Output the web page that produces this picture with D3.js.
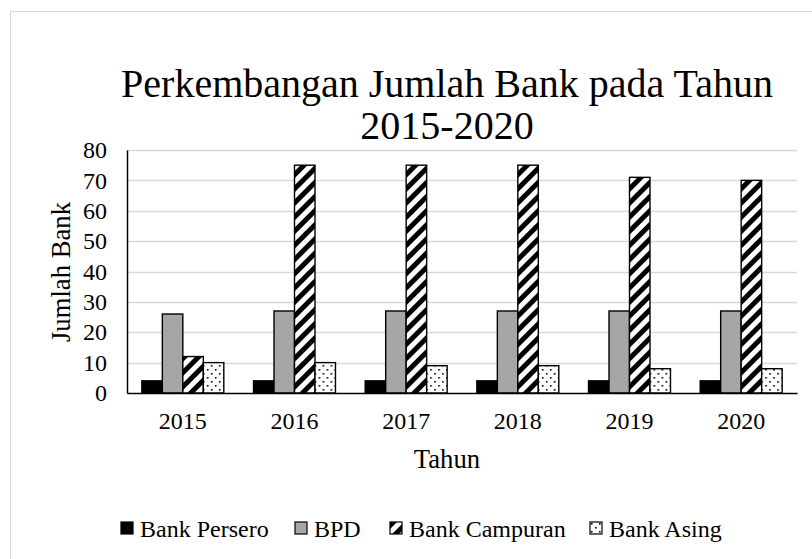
<!DOCTYPE html>
<html>
<head>
<meta charset="utf-8">
<script src="https://cdn.jsdelivr.net/npm/d3@7"></script>
<style>
  body { margin: 0; background: #fff; }
  text { font-family: "Liberation Serif", "Times New Roman", serif; fill: #000; }
</style>
</head>
<body>
<div id="chart"></div>
<script>
const years = ['2015', '2016', '2017', '2018', '2019', '2020'];
const seriesNames = ['Bank Persero', 'BPD', 'Bank Campuran', 'Bank Asing'];
const bankPersero = [4, 4, 4, 4, 4, 4];
const bpd = [26, 27, 27, 27, 27, 27];
const bankCampuran = [12, 75, 75, 75, 71, 70];
const bankAsing = [10, 10, 9, 9, 8, 8];
const yTicks = [0, 10, 20, 30, 40, 50, 60, 70, 80];

const seriesValues = [bankPersero, bpd, bankCampuran, bankAsing];
const fills = ['#000', '#a6a6a6', 'url(#stripes)', 'url(#dots)'];

const width = 812;
const height = 559;
const margin = { left: 127, right: 15, top: 150, bottom: 166 };

const svg = d3.select('#chart').append('svg')
  .attr('width', width)
  .attr('height', height);

// fill patterns for the two hatched series
const defs = svg.append('defs');
const stripes = defs.append('pattern')
  .attr('id', 'stripes')
  .attr('patternUnits', 'userSpaceOnUse')
  .attr('width', 10).attr('height', 10)
  .attr('patternTransform', 'rotate(45)');
stripes.append('rect').attr('width', 10).attr('height', 10).attr('fill', '#fff');
stripes.append('rect').attr('width', 5).attr('height', 10).attr('fill', '#000');

const dots = defs.append('pattern')
  .attr('id', 'dots')
  .attr('patternUnits', 'userSpaceOnUse')
  .attr('width', 8).attr('height', 8);
dots.append('rect').attr('width', 8).attr('height', 8).attr('fill', '#fff');
dots.append('rect').attr('x', 1).attr('y', 1).attr('width', 1.6).attr('height', 1.6).attr('fill', '#000');
dots.append('rect').attr('x', 5).attr('y', 5).attr('width', 1.6).attr('height', 1.6).attr('fill', '#000');

// chart frame
svg.append('rect')
  .attr('x', 10.5).attr('y', 11.5)
  .attr('width', 812).attr('height', 560)
  .attr('fill', 'none')
  .attr('stroke', '#d9d9d9');

const x0 = d3.scaleBand()
  .domain(years)
  .range([margin.left, width - margin.right])
  .paddingInner(0.266)
  .paddingOuter(0.133);

const x1 = d3.scaleBand()
  .domain(seriesNames)
  .range([0, x0.bandwidth()]);

const y = d3.scaleLinear()
  .domain([0, 80])
  .range([height - margin.bottom, margin.top]);

// gridlines
svg.append('g')
  .selectAll('line')
  .data(yTicks.slice(1))
  .join('line')
  .attr('x1', margin.left)
  .attr('x2', width - margin.right)
  .attr('y1', (d) => Math.round(y(d)) + 0.5)
  .attr('y2', (d) => Math.round(y(d)) + 0.5)
  .attr('stroke', '#d9d9d9')
  .attr('stroke-width', 1.3);

// bars
const groups = svg.append('g')
  .selectAll('g')
  .data(years)
  .join('g')
  .attr('transform', (d) => `translate(${x0(d)},0)`);

groups.selectAll('rect')
  .data((d, i) => seriesNames.map((name, s) => ({ name, s, value: seriesValues[s][i] })))
  .join('rect')
  .attr('x', (d) => x1(d.name))
  .attr('y', (d) => y(d.value))
  .attr('width', x1.bandwidth())
  .attr('height', (d) => y(0) - y(d.value))
  .attr('fill', (d) => fills[d.s])
  .attr('stroke', '#000')
  .attr('stroke-width', 1.4);

// axes
const yAxis = svg.append('g')
  .attr('transform', `translate(${margin.left},0)`)
  .call(d3.axisLeft(y).tickValues(yTicks).tickSize(0).tickPadding(20));
yAxis.select('.domain').attr('stroke', '#000').attr('stroke-width', 1.5);
yAxis.selectAll('text').style('font-size', '24px').attr('fill', '#000');

const xAxis = svg.append('g')
  .attr('transform', `translate(0,${y(0)})`)
  .call(d3.axisBottom(x0).tickSize(0).tickPadding(19));
xAxis.select('.domain').attr('stroke', '#000').attr('stroke-width', 1.5);
xAxis.selectAll('text').style('font-size', '24px').attr('fill', '#000');

// title
const title = svg.append('text')
  .attr('text-anchor', 'middle')
  .style('font-size', '40px');
title.append('tspan').attr('x', 447).attr('y', 97).text('Perkembangan Jumlah Bank pada Tahun');
title.append('tspan').attr('x', 447).attr('y', 139).text('2015-2020');

// axis titles
svg.append('text')
  .attr('x', 447).attr('y', 468)
  .attr('text-anchor', 'middle')
  .style('font-size', '26.7px')
  .text('Tahun');

svg.append('text')
  .attr('transform', 'translate(70,272) rotate(-90)')
  .attr('text-anchor', 'middle')
  .style('font-size', '26.7px')
  .text('Jumlah Bank');

// legend
const legendX = [121, 295, 390, 590];
const legend = svg.append('g')
  .selectAll('g')
  .data(seriesNames)
  .join('g')
  .attr('transform', (d, i) => `translate(${legendX[i]},522)`);

legend.append('rect')
  .attr('width', 12).attr('height', 12)
  .attr('fill', (d, i) => fills[i])
  .attr('stroke', '#000')
  .attr('stroke-width', 1.2);

legend.append('text')
  .attr('x', 19).attr('y', 15)
  .style('font-size', '24px')
  .text((d) => d);
</script>
</body>
</html>
